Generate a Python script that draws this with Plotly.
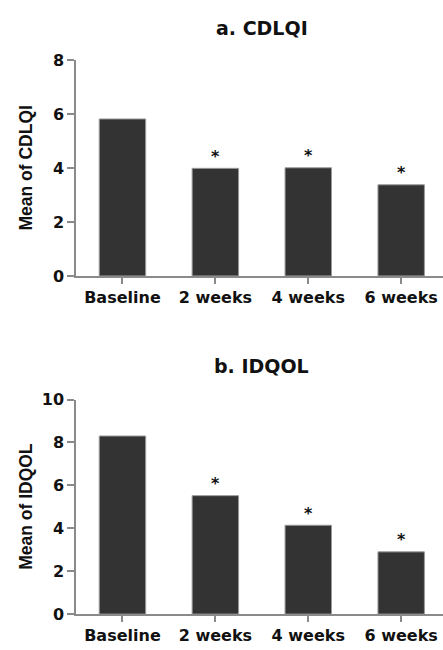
import plotly.graph_objects as go

categories = ["Baseline", "2 weeks", "4 weeks", "6 weeks"]
cdlqi_means = [5.82, 3.99, 4.01, 3.38]
idqol_means = [8.3, 5.52, 4.14, 2.9]
significance = ["", "*", "*", "*"]
titles = ["a. CDLQI", "b. IDQOL"]
y_titles = ["Mean of CDLQI", "Mean of IDQOL"]
cdlqi_ticks = [0, 2, 4, 6, 8]
idqol_ticks = [0, 2, 4, 6, 8, 10]

W, H = 443, 650
BAR = "#333333"
AXIS = "#8a8a8a"
TXT = "#111111"
HFONT = "DejaVu Sans"
VFONT = "Liberation Sans, Arial"

fig = go.Figure()
fig.add_trace(go.Bar(x=categories, y=cdlqi_means, xaxis="x", yaxis="y",
                     width=0.5, marker=dict(color=BAR, line=dict(color="#9a9a9a", width=1)),
                     showlegend=False, hoverinfo="skip"))
fig.add_trace(go.Bar(x=categories, y=idqol_means, xaxis="x2", yaxis="y2",
                     width=0.5, marker=dict(color=BAR, line=dict(color="#9a9a9a", width=1)),
                     showlegend=False, hoverinfo="skip"))

x_dom = [76 / W, 1.0]
top_dom = [1 - 275 / H, 1 - 52.7 / H]
bot_dom = [1 - 623.3 / H, 1 - 402.3 / H]

xa = dict(domain=x_dom, range=[-0.5, 3.45], showline=True, linecolor=AXIS, linewidth=1.5,
          ticks="outside", ticklen=6, tickwidth=1.5, tickcolor=AXIS,
          tickfont=dict(family=HFONT, size=16, color=TXT, weight="bold"),
          showgrid=False, zeroline=False, fixedrange=True)
ya = dict(showline=True, linecolor=AXIS, linewidth=1.5,
          ticks="outside", ticklen=7, tickwidth=1.5, tickcolor=AXIS,
          tickfont=dict(family=HFONT, size=16, color=TXT, weight="bold"),
          showgrid=False, zeroline=False, fixedrange=True)

fig.update_layout(
    width=W, height=H,
    margin=dict(l=0, r=0, t=0, b=0),
    paper_bgcolor="white", plot_bgcolor="white",
    xaxis=dict(xa, anchor="y"),
    yaxis=dict(ya, domain=top_dom, range=[0, 8], tickvals=cdlqi_ticks, anchor="x"),
    xaxis2=dict(xa, anchor="y2"),
    yaxis2=dict(ya, domain=bot_dom, range=[0, 10], tickvals=idqol_ticks, anchor="x2"),
    bargap=0.5,
)

ann = []
for xr, yr, vals in (("x", "y", cdlqi_means), ("x2", "y2", idqol_means)):
    for c, v, s in zip(categories, vals, significance):
        if s:
            ann.append(dict(x=c, y=v, xref=xr, yref=yr, text=s, showarrow=False,
                            yanchor="middle", yshift=12,
                            font=dict(family=HFONT, size=16, color=TXT, weight="bold")))

for t, yc in zip(titles, [19.7, 368]):
    ann.append(dict(x=261.5 / W, y=1 - yc / H, xref="paper", yref="paper", text=t,
                    showarrow=False, xanchor="center", yanchor="middle",
                    font=dict(family=HFONT, size=19, color=TXT, weight="bold")))

for t, yc in zip(y_titles, [163.5, 512]):
    ann.append(dict(x=25.8 / W, y=1 - yc / H, xref="paper", yref="paper", text=t,
                    showarrow=False, xanchor="center", yanchor="middle", textangle=-90,
                    font=dict(family=VFONT, size=17.5, color=TXT, weight="bold")))

fig.update_layout(annotations=ann)
fig.write_html("out.html", config={"displayModeBar": False},
               post_script="document.body.style.margin='0';document.body.style.overflow='hidden';")
